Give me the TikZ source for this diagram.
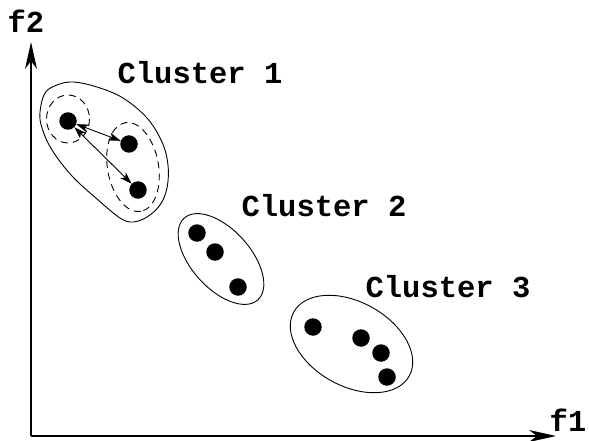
\documentclass[tikz,border=0pt]{standalone}
\usepackage{fontspec}
\setmonofont{Liberation Mono}
\usetikzlibrary{arrows.meta}

\begin{document}
\begin{tikzpicture}[x=1pt,y=-1pt,
        dot/.style={circle,fill=black,inner sep=0pt,minimum size=17.5pt},
        lbl/.style={font=\ttfamily\bfseries\fontsize{30.5}{30.5}\selectfont,inner sep=0pt},
        axis/.style={line width=1.4pt,-{Stealth[length=27pt,width=12pt,inset=8pt]}},
        link/.style={line width=0.9pt,{Stealth[length=12pt,width=8pt,inset=3pt]}-{Stealth[length=12pt,width=8pt,inset=3pt]}},
        hull/.style={line width=0.9pt},
        sub/.style={line width=0.9pt,dash pattern=on 7pt off 5pt}]
            \useasboundingbox (0,0) rectangle (589,441);
            % axes
            \coordinate (o) at (31,436);
            \coordinate (xend) at (556,436);
            \coordinate (yend) at (31,42);
            \draw[axis] (o) -- (xend);
            \draw[axis] (o) -- (yend);
            \node[lbl] (f1) at (568,420) {f1};
            \node[lbl] (f2) at (26,21) {f2};

            % cluster 1
            \draw[hull] plot[smooth cycle,tension=0.6] coordinates {(57,85) (73,82) (97,87)
                (123,98) (147,118) (162,142) (168,165) (167,188) (160,205) (147,217)
                (133,222) (120,218) (97,199) (72,176) (52,150) (42,128) (40,112) (45,93)};
            \draw[sub] (68,119) ellipse [x radius=21.5, y radius=24];
            \draw[sub,rotate around={-80:(133,167)}] (133,167) ellipse [x radius=45, y radius=25.5];
            \node[dot] (a1) at (68,121) {};
            \node[dot] (a2) at (129,144) {};
            \node[dot] (a3) at (138,190) {};
            \draw[link] (a1) -- (a2);
            \draw[link] (a1) -- (a3);
            \node[lbl] (c1) at (200,73) {Cluster 1};

            % cluster 2
            \draw[hull,rotate around={-48:(221,259)}] (221,259) ellipse [x radius=55, y radius=29.5];
            \node[dot] (b1) at (197,233) {};
            \node[dot] (b2) at (215,252) {};
            \node[dot] (b3) at (238,287) {};
            \node[lbl] (c2) at (324,206) {Cluster 2};

            % cluster 3
            \draw[hull,rotate around={-29:(351.5,344)}] (351.5,344) ellipse [x radius=66, y radius=42];
            \node[dot] (d1) at (313,327) {};
            \node[dot] (d2) at (361,338) {};
            \node[dot] (d3) at (381,353) {};
            \node[dot] (d4) at (387,377) {};
            \node[lbl] (c3) at (448,287) {Cluster 3};
        \end{tikzpicture}
\end{document}
